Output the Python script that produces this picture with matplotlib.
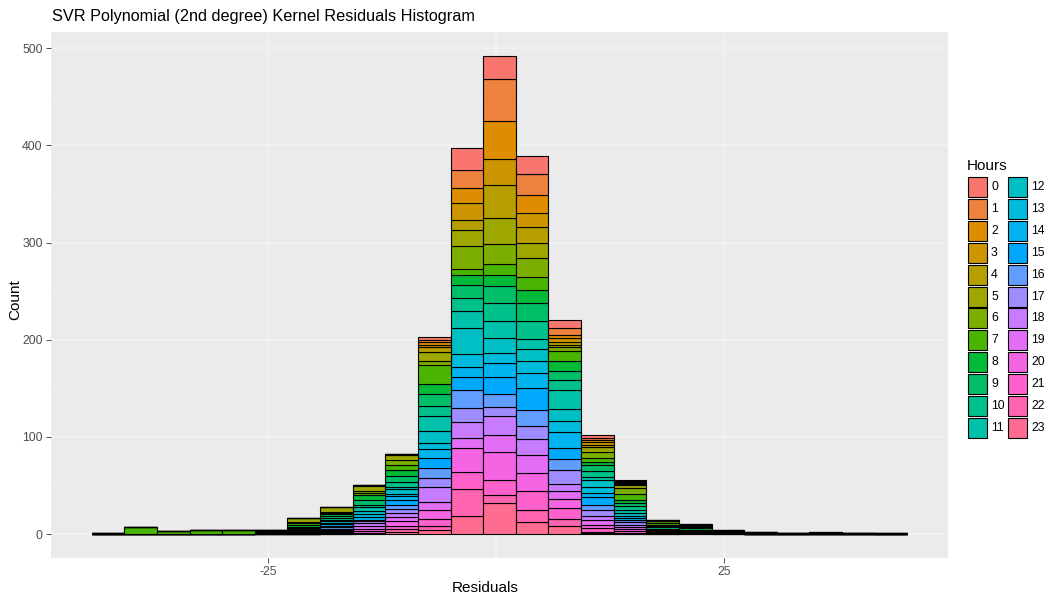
import math
import numpy as np
import matplotlib
matplotlib.use("Agg")
import matplotlib.pyplot as plt
from matplotlib.patches import Rectangle

plt.rcParams["font.family"] = ["Liberation Sans", "DejaVu Sans"]

# ---- data -------------------------------------------------------------
hours = list(range(24))
bin_start = -44.33      # left edge of the first residual bin
bin_width = 3.575       # residual bin width

# counts per bin, one entry per hour (0..23)
b01 = [0, 0, 0, 0, 0, 0, 0, 1, 0, 0, 0, 0, 0, 0, 0, 0, 0, 0, 0, 0, 0, 0, 0, 0]
b02 = [0, 0, 0, 0, 0, 0, 0, 7, 0, 0, 0, 0, 0, 0, 0, 0, 0, 0, 0, 0, 0, 0, 0, 0]
b03 = [0, 0, 0, 0, 0, 0, 0, 3, 0, 0, 0, 0, 0, 0, 0, 0, 0, 0, 0, 0, 0, 0, 0, 0]
b04 = [0, 0, 0, 0, 0, 0, 0, 4, 0, 0, 0, 0, 0, 0, 0, 0, 0, 0, 0, 0, 0, 0, 0, 0]
b05 = [0, 0, 0, 0, 0, 0, 0, 4, 0, 0, 0, 0, 0, 0, 0, 0, 0, 0, 0, 0, 0, 0, 0, 0]
b06 = [0, 0, 0, 0, 0, 0, 0, 1, 0, 0, 1, 0, 0, 1, 0, 0, 1, 0, 0, 0, 0, 0, 0, 0]
b07 = [0, 0, 0, 0, 0, 5, 1, 2, 2, 1, 1, 1, 1, 1, 1, 0, 1, 0, 0, 0, 0, 0, 0, 0]
b08 = [0, 0, 0, 0, 0, 5, 1, 1, 2, 2, 2, 2, 2, 1, 2, 1, 2, 1, 1, 1, 1, 1, 0, 0]
b09 = [0, 0, 0, 0, 1, 5, 2, 2, 5, 5, 2, 4, 3, 3, 3, 0, 2, 2, 3, 3, 2, 2, 0, 1]
b10 = [0, 0, 0, 0, 1, 5, 5, 5, 6, 6, 6, 2, 5, 2, 4, 5, 4, 4, 4, 5, 5, 3, 3, 2]
b11 = [3, 2, 3, 3, 5, 9, 4, 20, 10, 12, 10, 16, 12, 6, 10, 10, 10, 10, 15, 8, 9, 8, 4, 4]
b12 = [22, 19, 15, 18, 10, 17, 23, 6, 11, 13, 13, 18, 27, 13, 10, 14, 18, 15, 16, 10, 25, 18, 27, 19]
b13 = [24, 43, 39, 27, 34, 27, 20, 11, 12, 17, 19, 17, 16, 10, 14, 18, 13, 10, 19, 18, 28, 16, 8, 32]
b14 = [18, 22, 19, 14, 16, 16, 19, 14, 13, 19, 18, 11, 12, 12, 16, 22, 17, 13, 17, 18, 19, 19, 13, 12]
b15 = [8, 7, 3, 4, 3, 3, 4, 10, 10, 9, 11, 19, 13, 11, 16, 12, 11, 14, 8, 8, 9, 11, 8, 8]
b16 = [3, 2, 2, 3, 2, 6, 6, 4, 3, 6, 6, 3, 8, 6, 4, 8, 5, 6, 5, 5, 3, 4, 1, 1]
b17 = [1, 1, 1, 1, 2, 3, 6, 6, 3, 3, 4, 3, 3, 2, 2, 1, 2, 3, 2, 2, 2, 2, 1, 0]
b18 = [0, 0, 0, 1, 0, 0, 2, 2, 1, 1, 2, 1, 0, 1, 0, 0, 1, 0, 0, 1, 0, 1, 0, 0]
b19 = [0, 0, 1, 0, 0, 1, 1, 1, 2, 1, 0, 0, 1, 0, 0, 0, 0, 0, 0, 0, 0, 1, 1, 0]
b20 = [0, 0, 0, 1, 0, 0, 0, 0, 1, 0, 0, 0, 1, 0, 0, 0, 0, 0, 0, 0, 0, 1, 0, 0]
b21 = [0, 0, 0, 0, 0, 1, 0, 0, 0, 1, 0, 0, 0, 0, 0, 0, 0, 0, 0, 0, 0, 0, 0, 0]
b22 = [0, 0, 0, 0, 0, 0, 0, 0, 1, 0, 0, 0, 0, 0, 0, 0, 0, 0, 0, 0, 0, 0, 0, 0]
b23 = [0, 0, 1, 0, 0, 0, 0, 0, 0, 0, 1, 0, 0, 0, 0, 0, 0, 0, 0, 0, 0, 0, 0, 0]
b24 = [0, 0, 0, 0, 0, 0, 0, 0, 0, 1, 0, 0, 0, 0, 0, 0, 0, 0, 0, 0, 0, 0, 0, 0]
b25 = [0, 0, 0, 0, 0, 0, 1, 0, 0, 0, 0, 0, 0, 0, 0, 0, 0, 0, 0, 0, 0, 0, 0, 0]

bins = [b01, b02, b03, b04, b05, b06, b07, b08, b09, b10, b11, b12, b13,
        b14, b15, b16, b17, b18, b19, b20, b21, b22, b23, b24, b25]

x_ticks = [-25, 25]
y_ticks = [0, 100, 200, 300, 400, 500]

title = "SVR Polynomial (2nd degree) Kernel Residuals Histogram"
x_label = "Residuals"
y_label = "Count"
legend_title = "Hours"


# ---- ggplot-like hue palette (HCL -> sRGB) ----------------------------
def hcl_hex(h, c=100.0, l=65.0):
    hr = math.radians(h)
    u, v = c * math.cos(hr), c * math.sin(hr)
    xn, yn, zn = 95.047, 100.0, 108.883
    un = 4 * xn / (xn + 15 * yn + 3 * zn)
    vn = 9 * yn / (xn + 15 * yn + 3 * zn)
    y = yn * ((l + 16) / 116) ** 3 if l > 8 else yn * l / 903.3
    up = u / (13 * l) + un
    vp = v / (13 * l) + vn
    x = 9 * y * up / (4 * vp)
    z = -x / 3 - 5 * y + 3 * y / vp
    x, y, z = x / 100, y / 100, z / 100
    r = 3.240479 * x - 1.537150 * y - 0.498535 * z
    g = -0.969256 * x + 1.875992 * y + 0.041556 * z
    b = 0.055648 * x - 0.204043 * y + 1.057311 * z

    def gam(t):
        t = 12.92 * t if t <= 0.0031308 else 1.055 * t ** (1 / 2.4) - 0.055
        return min(max(t, 0.0), 1.0)

    return (gam(r), gam(g), gam(b))


n = len(hours)
palette = [hcl_hex(15 + 360 * i / n) for i in range(n)]

# ---- figure -----------------------------------------------------------
W, H = 1051, 601
fig = plt.figure(figsize=(W / 100, H / 100), dpi=100)
fig.patch.set_facecolor("white")

pl, pr, pt, pb = 51, 948, 32, 558
ax = fig.add_axes([pl / W, 1 - pb / H, (pr - pl) / W, (pb - pt) / H])
ax.set_facecolor("#EBEBEB")

counts = np.array(bins)                       # shape (bins, hours)
edges = bin_start + bin_width * np.arange(len(bins) + 1)
centers = (edges[:-1] + edges[1:]) / 2
totals = counts.sum(axis=1)

# stacked: last hour at the bottom, hour 0 on top
bottom = np.zeros(len(bins))
for h in reversed(hours):
    ax.bar(centers, counts[:, h], width=bin_width, bottom=bottom,
           color=palette[h], edgecolor="black", linewidth=0.8, zorder=3)
    bottom += counts[:, h]

# limits with 5% expansion
xr = edges[-1] - edges[0]
ax.set_xlim(edges[0] - 0.05 * xr, edges[-1] + 0.05 * xr)
ymax = totals.max()
ax.set_ylim(-0.05 * ymax, 1.05 * ymax)

# grid
grid_major = "#F4F4F4"
grid_minor = "#F0F0F0"
for yv in y_ticks:
    ax.axhline(yv, color=grid_major, lw=1.1, zorder=1)
for yv in np.arange(50, 501, 100):
    ax.axhline(yv, color=grid_minor, lw=0.55, zorder=1)
for xv in [-25, 0, 25]:
    ax.axvline(xv, color=grid_major, lw=1.1, zorder=1)
for xv in [-37.5, -12.5, 12.5, 37.5]:
    ax.axvline(xv, color=grid_minor, lw=0.55, zorder=1)

for s in ax.spines.values():
    s.set_visible(False)
ax.set_xticks(x_ticks)
ax.set_xticklabels([str(v) for v in x_ticks])
ax.set_yticks(y_ticks)
ax.set_yticklabels([str(v) for v in y_ticks])
ax.tick_params(axis="both", length=3.5, width=0.6, color="#333333",
               labelcolor="#4D4D4D", labelsize=8.8, pad=2.5)

fig.text(52 / W, 1 - 17 / H, title, fontsize=11.7, ha="left", va="center")
fig.text(485 / W, 1 - 588 / H, x_label, fontsize=11, ha="center", va="center")
fig.text(15 / W, 1 - 300 / H, y_label, fontsize=11, ha="center",
         va="center", rotation=90)

# ---- legend (two columns of 12) ---------------------------------------
lg = fig.add_axes([0, 0, 1, 1], facecolor="none")
lg.set_xlim(0, W)
lg.set_ylim(H, 0)
lg.axis("off")
lg.text(967, 166, legend_title, fontsize=11, ha="left", va="center")
key_w, key_h, pitch = 19, 20, 21.96
col_x = [968, 1008]
top0 = 176.7
per_col = 12
for i, h in enumerate(hours):
    col, row = divmod(i, per_col)
    x0 = col_x[col]
    y0 = top0 + row * pitch
    lg.add_patch(Rectangle((x0, y0), key_w, key_h, facecolor=palette[h],
                           edgecolor="black", linewidth=0.8))
    lg.text(x0 + key_w + 4, y0 + key_h / 2, str(h), fontsize=8.8,
            ha="left", va="center", color="black")

fig.savefig("out.png", dpi=100)
